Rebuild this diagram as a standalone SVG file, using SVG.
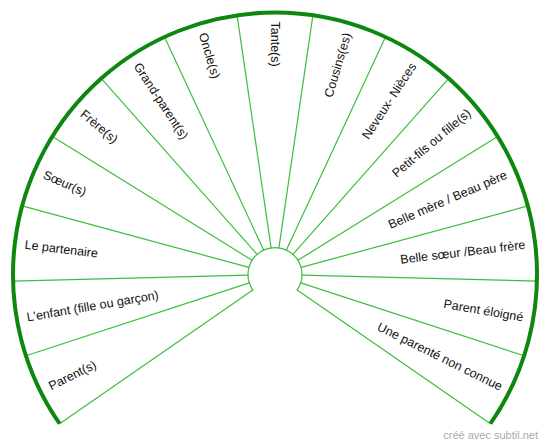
<svg xmlns="http://www.w3.org/2000/svg" width="550" height="447" viewBox="0 0 550 447">
<style>
.bg{fill:#ffffff}
.sp{stroke:#3cbe3c;stroke-width:1.2;fill:none;stroke-linecap:round}
.rim{stroke:#0e870e;stroke-width:4;fill:none;stroke-linecap:butt}
.hub{stroke:#3cbe3c;stroke-width:1.2;fill:#ffffff}
.lb{font-family:"Liberation Sans",Arial,sans-serif;font-size:12.5px;fill:#111111}
.l{text-anchor:start}
.r{text-anchor:end}
.wm{font-family:"Liberation Sans",Arial,sans-serif;font-size:11px;fill:#aaaaaa;text-anchor:end}
</style>
<rect class="bg" x="0" y="0" width="550" height="447"/>
<g id="connectors">
<line class="sp" x1="252.8" y1="289.9" x2="59.6" y2="423.7"/>
<line class="sp" x1="249.3" y1="282.9" x2="25.9" y2="355.8"/>
<line class="sp" x1="248.0" y1="275.2" x2="13.1" y2="281.1"/>
<line class="sp" x1="248.9" y1="267.4" x2="22.1" y2="205.9"/>
<line class="sp" x1="252.1" y1="260.3" x2="52.4" y2="136.4"/>
<line class="sp" x1="257.1" y1="254.3" x2="101.2" y2="78.4"/>
<line class="sp" x1="263.6" y1="250.0" x2="164.5" y2="36.9"/>
<line class="sp" x1="271.1" y1="247.8" x2="237.1" y2="15.3"/>
<line class="sp" x1="278.9" y1="247.8" x2="312.9" y2="15.3"/>
<line class="sp" x1="286.4" y1="250.0" x2="385.5" y2="36.9"/>
<line class="sp" x1="292.9" y1="254.3" x2="448.8" y2="78.4"/>
<line class="sp" x1="297.9" y1="260.3" x2="497.6" y2="136.4"/>
<line class="sp" x1="301.1" y1="267.4" x2="527.9" y2="205.9"/>
<line class="sp" x1="302.0" y1="275.2" x2="536.9" y2="281.1"/>
<line class="sp" x1="300.7" y1="282.9" x2="524.1" y2="355.8"/>
<line class="sp" x1="297.2" y1="289.9" x2="490.4" y2="423.7"/>
</g>
<g id="frame">
<path class="rim" d="M 59.6 423.7 A 262 262 0 1 1 490.4 423.7"/>
<path class="sp" d="M 252.8 289.9 A 27 27 0 1 1 297.2 289.9"/>
</g>
<g id="parents"><text class="lb l" x="49.3" y="386.5" dy="0.35em" transform="rotate(-26.39 49.3 386.5)">Parent(s)</text></g>
<g id="enfant"><text class="lb l" x="26.7" y="317.2" dy="0.35em" transform="rotate(-9.76 26.7 317.2)">L'enfant (fille ou garçon)</text></g>
<g id="partenaire"><text class="lb l" x="24.8" y="244.4" dy="0.35em" transform="rotate(6.87 24.8 244.4)">Le partenaire</text></g>
<g id="soeur"><text class="lb l" x="43.9" y="174.0" dy="0.35em" transform="rotate(23.5 43.9 174.0)">Sœur(s)</text></g>
<g id="frere"><text class="lb l" x="82.2" y="112.2" dy="0.35em" transform="rotate(40.12 82.2 112.2)">Frère(s)</text></g>
<g id="grandparent"><text class="lb l" x="136.8" y="63.8" dy="0.35em" transform="rotate(56.75 136.8 63.8)">Grand-parent(s)</text></g>
<g id="oncle"><text class="lb l" x="202.9" y="33.0" dy="0.35em" transform="rotate(73.38 202.9 33.0)">Oncle(s)</text></g>
<g id="tante"><text class="lb l" x="275" y="21.5" dy="0.35em" transform="rotate(90 275 21.5)">Tante(s)</text></g>
<g id="cousins"><text class="lb r" x="347.1" y="33.0" dy="0.35em" transform="rotate(-73.38 347.1 33.0)">Cousins(es)</text></g>
<g id="neveux"><text class="lb r" x="413.2" y="63.8" dy="0.35em" transform="rotate(-56.75 413.2 63.8)">Neveux- Nièces</text></g>
<g id="petitfils"><text class="lb r" x="469.0" y="111.2" dy="0.35em" transform="rotate(-40.12 469.0 111.2)">Petit-fils ou fille(s)</text></g>
<g id="bellemere"><text class="lb r" x="506.1" y="174.0" dy="0.35em" transform="rotate(-23.5 506.1 174.0)">Belle mère / Beau père</text></g>
<g id="bellesoeur"><text class="lb r" x="525.2" y="244.4" dy="0.35em" transform="rotate(-6.87 525.2 244.4)">Belle sœur /Beau frère</text></g>
<g id="eloigne"><text class="lb r" x="523.3" y="317.2" dy="0.35em" transform="rotate(9.76 523.3 317.2)">Parent éloigné</text></g>
<g id="inconnue"><text class="lb r" x="501.6" y="387.0" dy="0.35em" transform="rotate(26.39 501.6 387.0)">Une parenté non connue</text></g>
<text class="wm" x="538" y="439">créé avec subtil.net</text>
</svg>
